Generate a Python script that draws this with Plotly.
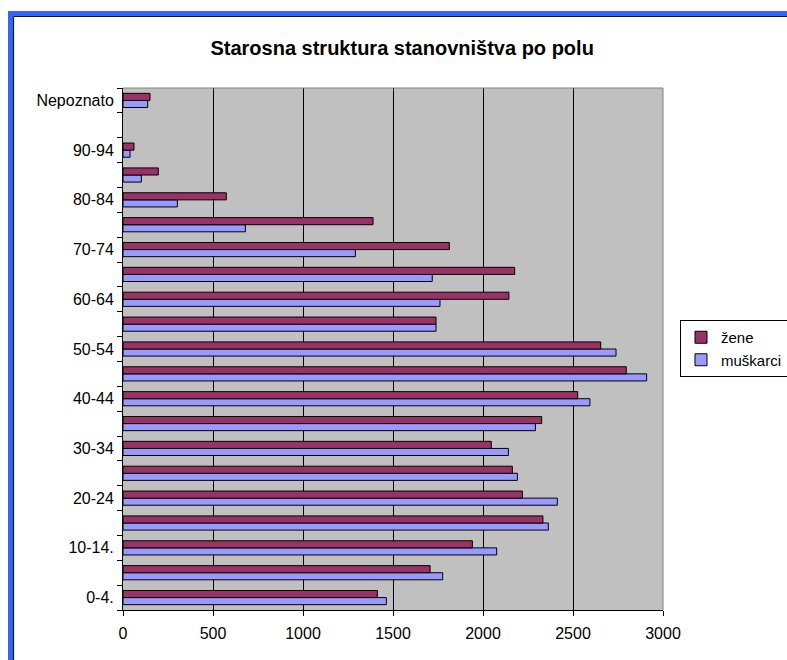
import plotly.graph_objects as go

categories = ["0-4.", "5-9", "10-14.", "15-19", "20-24", "25-29", "30-34", "35-39",
              "40-44", "45-49", "50-54", "55-59", "60-64", "65-69", "70-74", "75-79",
              "80-84", "85-89", "90-94", "95+", "Nepoznato"]
tick_labels = ["0-4.", "", "10-14.", "", "20-24", "", "30-34", "", "40-44", "",
               "50-54", "", "60-64", "", "70-74", "", "80-84", "", "90-94", "", "Nepoznato"]
muskarci = [1463, 1776, 2076, 2363, 2413, 2191, 2141, 2291, 2594, 2909, 2739, 1739,
            1761, 1718, 1291, 680, 302, 102, 39, None, 137]
zene = [1413, 1706, 1941, 2333, 2219, 2163, 2046, 2326, 2526, 2796, 2654, 1739,
        2144, 2176, 1813, 1389, 574, 196, 61, None, 150]
x_ticks = [0, 500, 1000, 1500, 2000, 2500, 3000]

W, H = 787, 660
L, R, T, B = 123, 663, 88, 610

fig = go.Figure()
fig.add_trace(go.Bar(name="muškarci", y=categories, x=muskarci, orientation="h",
                     marker=dict(color="#9999FF", line=dict(color="#000000", width=1))))
fig.add_trace(go.Bar(name="žene", y=categories, x=zene, orientation="h",
                     marker=dict(color="#993366", line=dict(color="#000000", width=1))))

def px(xp):
    return (xp - L) / (R - L)

def py(yp):
    return (B - yp) / (B - T)

shapes = [
    dict(type="line", xref="paper", yref="paper", x0=0, x1=1, y0=1, y1=1,
         line=dict(color="#808080", width=1), layer="above"),
    dict(type="line", xref="paper", yref="paper", x0=1, x1=1, y0=0, y1=1,
         line=dict(color="#808080", width=1), layer="above"),
    dict(type="rect", xref="paper", yref="paper", x0=px(8), x1=px(13), y0=py(665), y1=py(11),
         fillcolor="#3366FF", line=dict(width=0), layer="above"),
    dict(type="rect", xref="paper", yref="paper", x0=px(8), x1=px(792), y0=py(16), y1=py(11),
         fillcolor="#3366FF", line=dict(width=0), layer="above"),
    dict(type="line", xref="paper", yref="paper", x0=px(13.5), x1=px(792), y0=py(16.5), y1=py(16.5),
         line=dict(color="#111111", width=1.2), layer="above"),
    dict(type="line", xref="paper", yref="paper", x0=px(13.5), x1=px(13.5), y0=py(665), y1=py(16.5),
         line=dict(color="#111111", width=1.2), layer="above"),
]

fig.update_layout(
    width=W, height=H,
    margin=dict(l=L, r=W - R, t=T, b=H - B, autoexpand=False),
    paper_bgcolor="white",
    plot_bgcolor="#C0C0C0",
    barmode="group",
    bargap=0.43,
    bargroupgap=0,
    font=dict(family="Liberation Sans, Arial, sans-serif", size=16, color="black"),
    title=dict(text="<b>Starosna struktura stanovništva po polu</b>",
               x=0.511, xref="container", xanchor="center",
               y=1 - 48 / H, yref="container", yanchor="middle",
               font=dict(size=20, color="black")),
    legend=dict(x=680 / W, y=1 - 320 / H, xref="container", yref="container",
                xanchor="left", yanchor="top",
                traceorder="reversed", bgcolor="white",
                bordercolor="black", borderwidth=1,
                font=dict(size=15), itemwidth=30, tracegroupgap=0),
    shapes=shapes,
    xaxis=dict(range=[0, 3000], tickvals=x_ticks, ticktext=[str(v) for v in x_ticks],
               showgrid=True, gridcolor="#000000", gridwidth=1,
               showline=True, linecolor="black", linewidth=1,
               ticks="outside", ticklen=5, tickcolor="black", ticklabelstandoff=4,
               zeroline=False, fixedrange=True, automargin=False),
    yaxis=dict(type="category", categoryorder="array", categoryarray=categories,
               tickvals=categories, ticktext=tick_labels,
               tickson="boundaries", ticks="outside", ticklen=5, tickcolor="black",
               ticklabelstandoff=5,
               showgrid=False, showline=True, linecolor="black", linewidth=1,
               range=[-0.5, len(categories) - 0.5], fixedrange=True, automargin=False),
)

fig.write_html("out.html")
